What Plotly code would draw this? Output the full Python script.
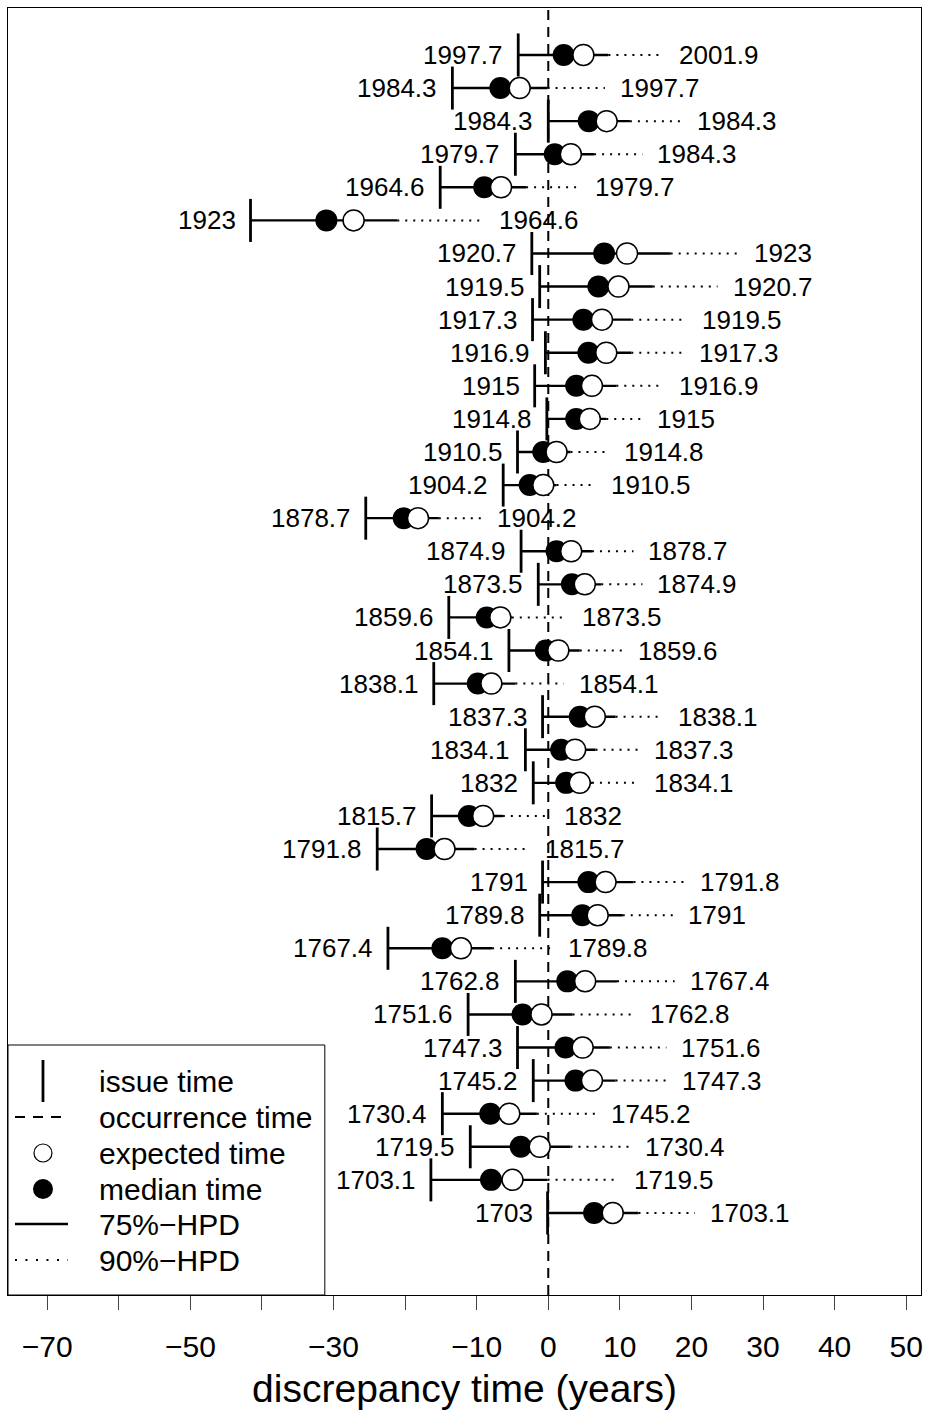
import plotly.graph_objects as go

# ---------------- data ----------------
issue_times = [1997.7, 1984.3, 1984.3, 1979.7, 1964.6, 1923, 1920.7, 1919.5, 1917.3, 1916.9,
               1915, 1914.8, 1910.5, 1904.2, 1878.7, 1874.9, 1873.5, 1859.6, 1854.1, 1838.1,
               1837.3, 1834.1, 1832, 1815.7, 1791.8, 1791, 1789.8, 1767.4, 1762.8, 1751.6,
               1747.3, 1745.2, 1730.4, 1719.5, 1703.1, 1703]
occurrence_times = [2001.9, 1997.7, 1984.3, 1984.3, 1979.7, 1964.6, 1923, 1920.7, 1919.5, 1917.3,
                    1916.9, 1915, 1914.8, 1910.5, 1904.2, 1878.7, 1874.9, 1873.5, 1859.6, 1854.1,
                    1838.1, 1837.3, 1834.1, 1832, 1815.7, 1791.8, 1791, 1789.8, 1767.4, 1762.8,
                    1751.6, 1747.3, 1745.2, 1730.4, 1719.5, 1703.1]
median_disc = [2.15, -6.7, 5.65, 0.9, -8.95, -31.0, 7.8, 7.0, 4.9, 5.6,
               3.9, 3.9, -0.7, -2.6, -20.2, 1.15, 3.3, -8.6, -0.35, -9.85,
               4.4, 1.8, 2.5, -11.1, -17.0, 5.6, 4.75, -14.8, 2.65, -3.6,
               2.4, 3.8, -8.1, -3.85, -8.0, 6.4]
expected_disc = [4.9, -4.0, 8.15, 3.15, -6.6, -27.2, 11.0, 9.8, 7.5, 8.1,
                 6.1, 5.8, 1.15, -0.7, -18.2, 3.2, 5.1, -6.7, 1.4, -7.95,
                 6.5, 3.75, 4.4, -9.1, -14.5, 8.0, 6.9, -12.2, 5.15, -0.95,
                 4.8, 6.1, -5.45, -1.2, -5.0, 9.0]
hpd75_upper = [8.4, -0.1, 11.4, 6.4, -3.1, -21.1, 17.1, 14.6, 11.6, 11.6,
               9.5, 8.1, 3.1, 1.15, -15.3, 6.1, 7.4, -5.1, 4.4, -4.6,
               9.4, 6.6, 6.1, -6.35, -10.3, 11.9, 10.4, -7.85, 9.6, 3.4,
               8.6, 9.4, -1.6, 3.1, -0.1, 12.6]
hpd90_upper = [16.15, 7.9, 18.65, 13.15, 4.4, -9.0, 26.65, 23.65, 19.4, 18.9,
               16.15, 13.15, 8.5, 6.65, -9.2, 11.9, 13.15, 2.65, 10.4, 2.15,
               16.0, 12.65, 12.65, 0.15, -2.5, 19.05, 17.4, 0.65, 17.65, 12.05,
               16.5, 16.65, 6.65, 11.4, 9.9, 20.5]
tick_values = [-70, -60, -50, -40, -30, -20, -10, 0, 10, 20, 30, 40, 50]
tick_labels = ["\u221270", "", "\u221250", "", "\u221230", "", "\u221210", "0", "10", "20", "30", "40", "50"]
legend_labels = ["issue time", "occurrence time", "expected time", "median time",
                 "75%\u2212HPD", "90%\u2212HPD"]
x_title = "discrepancy time (years)"

# ---------------- layout constants ----------------
W, H = 929, 1410
ML, MR, MT, MB = 8, 7.5, 8, 115
X_RANGE = [-75.48, 52.07]
Y_RANGE = [38.48, -0.42]
FONT = "Liberation Sans, Arial, Helvetica, sans-serif"
PW, PH = W - ML - MR, H - MT - MB

n = len(issue_times)
rows = list(range(1, n + 1))
issue_disc = [round(a - b, 3) for a, b in zip(issue_times, occurrence_times)]


def segs(x0s, x1s, y0s, y1s):
    X, Y = [], []
    for a, b, c, d in zip(x0s, x1s, y0s, y1s):
        X += [a, b, None]
        Y += [c, d, None]
    return X, Y


def lab(v):
    return f"{v:g}"


fig = go.Figure()

# occurrence (zero) line
fig.add_shape(type="line", xref="x", yref="paper", x0=0, x1=0, y0=0, y1=1,
              line=dict(color="black", width=2, dash="10px,7px"), layer="below")

# issue time ticks
X, Y = segs(issue_disc, issue_disc, [r - 0.65 for r in rows], [r + 0.65 for r in rows])
fig.add_trace(go.Scatter(x=X, y=Y, mode="lines", line=dict(color="black", width=2.8),
                         hoverinfo="skip", name="issue time"))
# 90% HPD (dotted)
X, Y = segs(hpd75_upper, hpd90_upper, rows, rows)
fig.add_trace(go.Scatter(x=X, y=Y, mode="lines", line=dict(color="black", width=2, dash="2px,6px"),
                         hoverinfo="skip", name="90%-HPD"))
# 75% HPD (solid)
X, Y = segs(issue_disc, hpd75_upper, rows, rows)
fig.add_trace(go.Scatter(x=X, y=Y, mode="lines", line=dict(color="black", width=2.4),
                         hoverinfo="skip", name="75%-HPD"))
# median
fig.add_trace(go.Scatter(x=median_disc, y=rows, mode="markers",
                         marker=dict(symbol="circle", size=22, color="black", line=dict(width=0)),
                         name="median time"))
# expected
fig.add_trace(go.Scatter(x=expected_disc, y=rows, mode="markers",
                         marker=dict(symbol="circle", size=21, color="white",
                                     line=dict(width=1.5, color="black")),
                         name="expected time"))

# row labels
for r, d, t in zip(rows, issue_disc, issue_times):
    fig.add_annotation(x=d, y=r, xref="x", yref="y", text=lab(t), showarrow=False,
                       xanchor="right", yanchor="middle", xshift=-13,
                       font=dict(family=FONT, size=26, color="black"))
for r, u, t in zip(rows, hpd90_upper, occurrence_times):
    fig.add_annotation(x=u, y=r, xref="x", yref="y", text=lab(t), showarrow=False,
                       xanchor="left", yanchor="middle", xshift=13,
                       font=dict(family=FONT, size=26, color="black"))


# ---------------- manual legend ----------------
def px(xp):
    return (xp - ML) / PW


def py(yp):
    return (MT + PH - yp) / PH


fig.add_shape(type="rect", xref="paper", yref="paper", x0=px(8), x1=px(325), y0=py(1295), y1=py(1045),
              line=dict(color="black", width=1), fillcolor="white", layer="above")
leg_y = [1081, 1117, 1153, 1189, 1224, 1260]
sx, lx0, lx1, tx = 43, 15, 68, 97
fig.add_shape(type="line", xref="paper", yref="paper", x0=px(sx), x1=px(sx),
              y0=py(leg_y[0] - 21), y1=py(leg_y[0] + 21), line=dict(color="black", width=2.8), layer="above")
fig.add_shape(type="line", xref="paper", yref="paper", x0=px(lx0), x1=px(lx1),
              y0=py(leg_y[1]), y1=py(leg_y[1]), line=dict(color="black", width=2, dash="10px,8px"), layer="above")
fig.add_shape(type="circle", xref="paper", yref="paper", xsizemode="pixel", ysizemode="pixel",
              xanchor=px(sx), yanchor=py(leg_y[2]), x0=-9, x1=9, y0=-9, y1=9,
              line=dict(color="black", width=1.2), fillcolor="white", layer="above")
fig.add_shape(type="circle", xref="paper", yref="paper", xsizemode="pixel", ysizemode="pixel",
              xanchor=px(sx), yanchor=py(leg_y[3]), x0=-10, x1=10, y0=-10, y1=10,
              line=dict(color="black", width=0), fillcolor="black", layer="above")
fig.add_shape(type="line", xref="paper", yref="paper", x0=px(lx0), x1=px(lx1),
              y0=py(leg_y[4]), y1=py(leg_y[4]), line=dict(color="black", width=2.4), layer="above")
fig.add_shape(type="line", xref="paper", yref="paper", x0=px(lx0), x1=px(lx1),
              y0=py(leg_y[5]), y1=py(leg_y[5]), line=dict(color="black", width=2, dash="2px,8.5px"), layer="above")
for t, yy in zip(legend_labels, leg_y):
    fig.add_annotation(x=px(tx), y=py(yy), xref="paper", yref="paper", text=t, showarrow=False,
                       xanchor="left", yanchor="middle",
                       font=dict(family=FONT, size=30, color="black"))

fig.update_layout(
    width=W, height=H,
    margin=dict(l=ML, r=MR, t=MT, b=MB, pad=0),
    paper_bgcolor="white", plot_bgcolor="white",
    showlegend=False,
    font=dict(family=FONT, color="black"),
    xaxis=dict(range=X_RANGE, showgrid=False, zeroline=False, showline=True, mirror=True,
               linecolor="black", linewidth=1, ticks="outside", ticklen=14, tickwidth=1,
               tickcolor="#444", tickvals=tick_values, ticktext=tick_labels,
               tickfont=dict(family=FONT, size=30, color="black"), ticklabelstandoff=11,
               title=dict(text=x_title, font=dict(family=FONT, size=39, color="black"), standoff=12)),
    yaxis=dict(range=Y_RANGE, showgrid=False, zeroline=False, showline=True, mirror=True,
               linecolor="black", linewidth=1, showticklabels=False, ticks=""),
)

fig.write_html("out.html")
